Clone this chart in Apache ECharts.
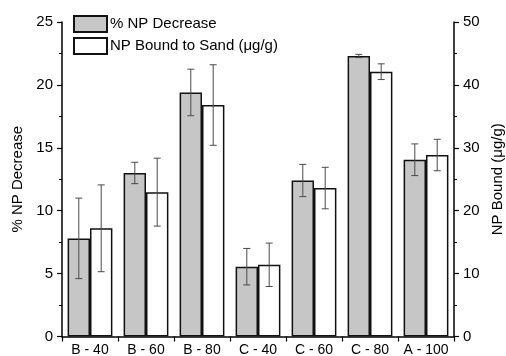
<!DOCTYPE html>
<html>
<head>
<meta charset="utf-8">
<script src="https://cdn.jsdelivr.net/npm/echarts@6/dist/echarts.min.js"></script>
<style>html,body{margin:0;padding:0;background:#fff;}#c{width:506px;height:356px;}</style>
</head>
<body>
<div id="c"></div>
<script>
const categories = ['B - 40', 'B - 60', 'B - 80', 'C - 40', 'C - 60', 'C - 80', 'A - 100'];
const npDecrease = [7.8, 13.0, 19.4, 5.55, 12.4, 22.3, 14.05];
const npDecreaseErr = [3.2, 0.85, 1.85, 1.45, 1.28, 0.13, 1.26];
const npBound = [17.2, 22.95, 36.8, 11.4, 23.6, 42.1, 28.85];
const npBoundErr = [6.9, 5.4, 6.4, 3.45, 3.3, 1.25, 2.5];
const leftTicks = [0, 5, 10, 15, 20, 25];
const rightTicks = [0, 10, 20, 30, 40, 50];

const font = 'Liberation Sans, Arial, sans-serif';
const chart = echarts.init(document.getElementById('c'), null, {renderer: 'canvas'});

function errRender(vals, errs, side) {
  return function (params, api) {
    const i = api.value(0);
    const band = api.size([1, 0])[0];
    const c = api.coord([i, vals[i]]);
    const x = c[0] + side * band * 0.2;
    const top = api.coord([i, vals[i] + errs[i]])[1];
    const bot = api.coord([i, vals[i] - errs[i]])[1];
    const cap = 3.5;
    const st = {stroke: '#4a4a4a', lineWidth: 1};
    return {
      type: 'group',
      children: [
        {type: 'line', shape: {x1: x, y1: top, x2: x, y2: bot}, style: st},
        {type: 'line', shape: {x1: x - cap, y1: top, x2: x + cap, y2: top}, style: st},
        {type: 'line', shape: {x1: x - cap, y1: bot, x2: x + cap, y2: bot}, style: st}
      ]
    };
  };
}

const axisCommon = {
  axisLine: {show: true, lineStyle: {color: '#000', width: 1.5}},
  axisTick: {show: true, inside: false, length: 5, lineStyle: {color: '#000', width: 1.2}},
  minorTick: {show: true, splitNumber: 2, length: 3, lineStyle: {color: '#000', width: 1}},
  splitLine: {show: false},
  axisLabel: {color: '#000', fontSize: 15, fontFamily: font, margin: 9}
};

chart.setOption({
  backgroundColor: '#fff',
  animation: false,
  grid: {left: 62, right: 52, top: 22, bottom: 19.5, outerBoundsMode: 'none', containLabel: false},
  legend: {
    orient: 'vertical', left: 68, top: 10, itemWidth: 33, itemHeight: 16, itemGap: 4,
    icon: 'rect',
    textStyle: {color: '#000', fontSize: 15, fontFamily: font, padding: [0, 0, 0, -2]},
    data: ['% NP Decrease', 'NP Bound to Sand (\u03bcg/g)']
  },
  xAxis: {
    type: 'category', data: categories,
    axisLine: {show: true, lineStyle: {color: '#000', width: 1.5}},
    axisTick: {show: true, length: 5, lineStyle: {color: '#000', width: 1.2}},
    axisLabel: {color: '#000', fontSize: 14, fontFamily: font, margin: 7, interval: 0}
  },
  yAxis: [
    Object.assign({}, axisCommon, {
      type: 'value', min: 0, max: 25, interval: 5, position: 'left',
      name: '% NP Decrease', nameLocation: 'middle', nameGap: 36, nameRotate: 90,
      nameTextStyle: {color: '#000', fontSize: 15, fontFamily: font},
      axisLabel: Object.assign({}, axisCommon.axisLabel, {formatter: v => leftTicks.includes(v) ? String(v) : ''})
    }),
    Object.assign({}, axisCommon, {
      type: 'value', min: 0, max: 50, interval: 10, position: 'right',
      name: 'NP Bound (\u03bcg/g)', nameLocation: 'middle', nameGap: 36, nameRotate: 90,
      nameMoveOverlap: false,
      nameTextStyle: {color: '#000', fontSize: 15, fontFamily: font},
      axisLabel: Object.assign({}, axisCommon.axisLabel, {formatter: v => rightTicks.includes(v) ? String(v) : ''})
    })
  ],
  series: [
    {
      name: '% NP Decrease', type: 'bar', yAxisIndex: 0, data: npDecrease,
      barGap: '0%', barCategoryGap: '20%',
      itemStyle: {color: '#c6c6c6', borderColor: '#111', borderWidth: 1.5}
    },
    {
      name: 'NP Bound to Sand (\u03bcg/g)', type: 'bar', yAxisIndex: 1, data: npBound,
      barGap: '0%', barCategoryGap: '20%',
      itemStyle: {color: '#fff', borderColor: '#111', borderWidth: 1.5}
    },
    {
      type: 'custom', yAxisIndex: 0, z: 10, silent: true,
      data: categories.map((c, i) => [i]),
      renderItem: errRender(npDecrease, npDecreaseErr, -1)
    },
    {
      type: 'custom', yAxisIndex: 1, z: 10, silent: true,
      data: categories.map((c, i) => [i]),
      renderItem: errRender(npBound, npBoundErr, 1)
    }
  ]
});
</script>
</body>
</html>
